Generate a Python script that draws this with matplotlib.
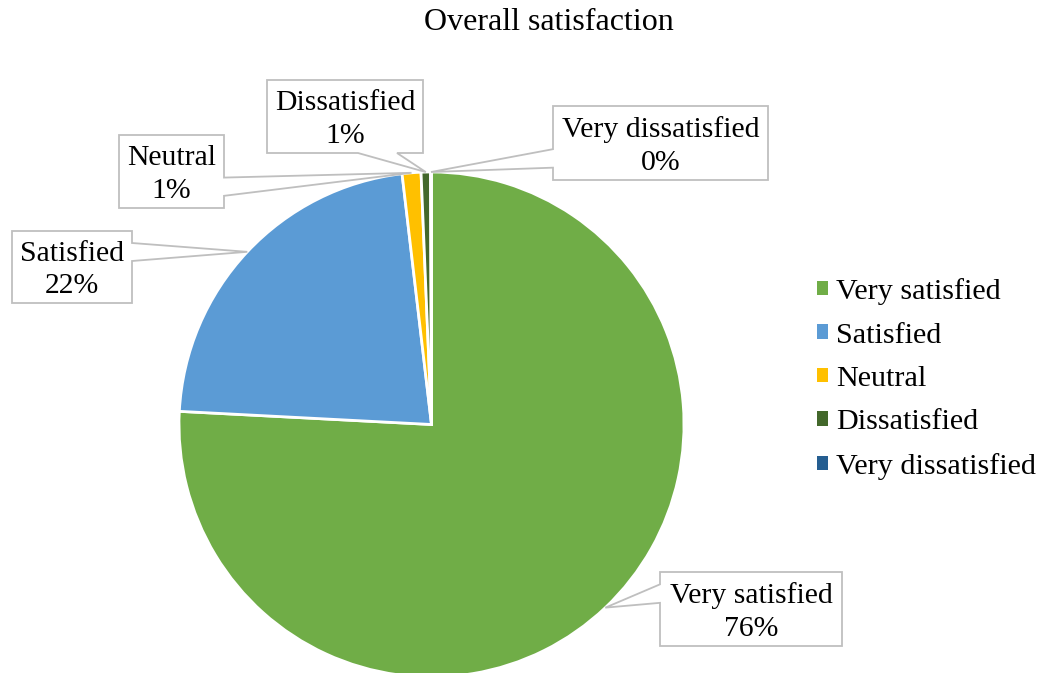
import matplotlib
matplotlib.use("Agg")
import matplotlib.pyplot as plt
from matplotlib.patches import Polygon, Patch
import numpy as np

# ---- data ----
categories = ["Very satisfied", "Satisfied", "Neutral", "Dissatisfied", "Very dissatisfied"]
values = [75.8, 22.3, 1.2, 0.6, 0.06]
colors = ["#70AD47", "#5B9BD5", "#FFC000", "#43682B", "#255E91"]
title = "Overall satisfaction"

# ---- layout (pixels, image coordinates, y down) ----
W, H = 1037, 673
pie_center = (431.5, 424.5)
pie_radius = 252.5
label_boxes = {
    "Very satisfied": (660, 572, 842, 646),
    "Satisfied": (12, 231, 132, 303),
    "Neutral": (119, 135, 224, 208),
    "Dissatisfied": (267, 80, 423, 153),
    "Very dissatisfied": (553, 106, 768, 180),
}

plt.rcParams["font.family"] = ["Liberation Serif", "DejaVu Serif"]

fig = plt.figure(figsize=(W / 100, H / 100), dpi=100)
ax = fig.add_axes([0, 0, 1, 1])
ax.set_xlim(0, W)
ax.set_ylim(0, H)
ax.set_aspect("equal")
ax.axis("off")


def fy(y):
    return H - y


wedges, _ = ax.pie(values, colors=colors, startangle=90, counterclock=False,
                   center=(pie_center[0], fy(pie_center[1])), radius=pie_radius,
                   wedgeprops=dict(edgecolor="white", linewidth=2))
ax.set_xlim(0, W)
ax.set_ylim(0, H)

total = sum(values)


def callout(box, tip):
    l, t, r, b = box
    w, h = r - l, b - t
    xc, yc = (l + r) / 2, (t + b) / 2
    dxp, dyp = tip[0] - xc, tip[1] - yc
    dq = dxp * h / w
    vertical = abs(dyp) > abs(dq)
    xg1, xg2 = (7, 10) if dxp > 0 else (2, 5)
    yg1, yg2 = (7, 10) if dyp > 0 else (2, 5)
    x1, x2 = l + w * xg1 / 12, l + w * xg2 / 12
    y1, y2 = t + h * yg1 / 12, t + h * yg2 / 12
    pts = [(l, t)]
    if vertical and dyp < 0:
        pts += [(x1, t), tip, (x2, t)]
    pts += [(r, t)]
    if not vertical and dxp > 0:
        pts += [(r, y1), tip, (r, y2)]
    pts += [(r, b)]
    if vertical and dyp > 0:
        pts += [(x2, b), tip, (x1, b)]
    pts += [(l, b)]
    if not vertical and dxp < 0:
        pts += [(l, y2), tip, (l, y1)]
    return [(x, fy(y)) for x, y in pts]


for wdg, cat, v in zip(wedges, categories, values):
    ang = np.deg2rad((wdg.theta1 + wdg.theta2) / 2)
    tx = pie_center[0] + pie_radius * np.cos(ang)
    ty = pie_center[1] - pie_radius * np.sin(ang)
    box = label_boxes[cat]
    poly = Polygon(callout(box, (tx, ty)), closed=True, facecolor="white",
                   edgecolor="#BFBFBF", linewidth=1.3, zorder=5)
    ax.add_patch(poly)
    cx = (box[0] + box[2]) / 2
    cy = (box[1] + box[3]) / 2 + 3
    ax.text(cx, fy(cy), f"{cat}\n{v / total * 100:.0f}%", ha="center", va="center",
            multialignment="center", fontsize=21.4, color="black", zorder=6,
            linespacing=1.32)

fig.text(549 / W, 1 - 23 / H, title, ha="center", va="center", fontsize=23, color="black")

handles = [Patch(facecolor=c, edgecolor="none") for c in colors]
ax.legend(handles, categories, loc="center left",
          bbox_to_anchor=(817 / W, 1 - 379 / H), bbox_transform=fig.transFigure,
          frameon=False, fontsize=21.7, handlelength=0.36, handleheight=0.36,
          handletextpad=0.28, labelspacing=0.58, borderpad=0, borderaxespad=0)

fig.savefig("out.png", dpi=100)
